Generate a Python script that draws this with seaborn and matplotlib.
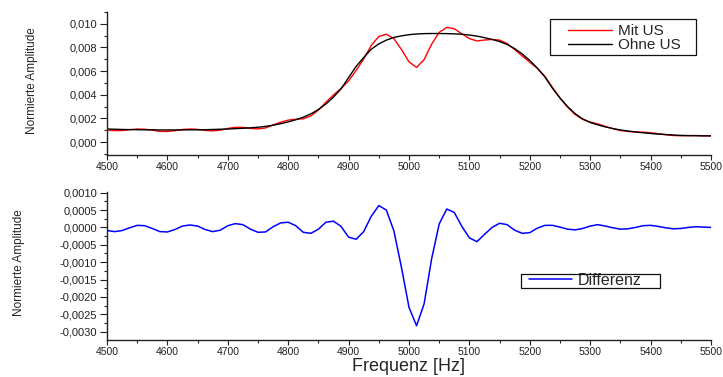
import numpy as np
import pandas as pd
import matplotlib
matplotlib.use("Agg")
import matplotlib.pyplot as plt
from matplotlib.ticker import MultipleLocator, FuncFormatter
from matplotlib.patches import Rectangle
import seaborn as sns

# ---------------- data ----------------
freq = np.arange(4500, 5500.1, 12.5)  # sampling grid in Hz

ohne_us = [1.10, 1.08, 1.06, 1.05, 1.04, 1.03, 1.03, 1.02, 1.02, 1.02,
           1.02, 1.03, 1.03, 1.04, 1.06, 1.08, 1.10, 1.13, 1.16, 1.20,
           1.25, 1.32, 1.42, 1.55, 1.70, 1.88, 2.10, 2.38, 2.75, 3.22,
           3.80, 4.50, 5.45, 6.40, 7.15, 7.85, 8.30, 8.62, 8.85, 8.98,
           9.08, 9.14, 9.17, 9.18, 9.18, 9.17, 9.15, 9.12, 9.05, 8.96,
           8.83, 8.68, 8.50, 8.25, 7.90, 7.45, 6.90, 6.25, 5.50, 4.55,
           3.72, 3.00, 2.40, 1.95, 1.65, 1.45, 1.28, 1.14, 1.02, 0.93,
           0.85, 0.78, 0.72, 0.67, 0.63, 0.59, 0.56, 0.54, 0.53, 0.52,
           0.52]  # x 1e-3

mit_us = [1.01, 0.96, 0.97, 1.04, 1.10, 1.08, 1.00, 0.90, 0.89, 0.96,
          1.06, 1.10, 1.07, 0.98, 0.94, 1.00, 1.15, 1.24, 1.24, 1.15,
          1.11, 1.19, 1.44, 1.68, 1.85, 1.93, 1.96, 2.21, 2.70, 3.37,
          3.98, 4.53, 5.17, 6.06, 7.03, 8.17, 8.93, 9.12, 8.75, 7.83,
          6.78, 6.31, 6.97, 8.28, 9.28, 9.70, 9.58, 9.15, 8.75, 8.55,
          8.63, 8.68, 8.62, 8.33, 7.82, 7.28, 6.75, 6.23, 5.56, 4.61,
          3.73, 2.95, 2.33, 1.92, 1.69, 1.53, 1.32, 1.13, 0.97, 0.89,
          0.85, 0.83, 0.78, 0.70, 0.62, 0.55, 0.53, 0.54, 0.55, 0.53,
          0.52]  # x 1e-3

differenz = [-0.9, -1.2, -0.9, -0.1, 0.6, 0.5, -0.3, -1.2, -1.3, -0.6,
             0.4, 0.7, 0.4, -0.6, -1.2, -0.8, 0.5, 1.1, 0.8, -0.5,
             -1.4, -1.3, 0.2, 1.3, 1.5, 0.5, -1.4, -1.7, -0.5, 1.5,
             1.8, 0.3, -2.8, -3.4, -1.2, 3.2, 6.3, 5.0, -1.0, -11.5,
             -23.0, -28.3, -22.0, -9.0, 1.0, 5.3, 4.3, 0.3, -3.0, -4.1,
             -2.0, 0.0, 1.2, 0.8, -0.8, -1.7, -1.5, -0.2, 0.6, 0.6,
             0.1, -0.5, -0.7, -0.3, 0.4, 0.8, 0.4, -0.1, -0.5, -0.4,
             0.0, 0.5, 0.6, 0.3, -0.1, -0.4, -0.3, 0.0, 0.2, 0.1,
             0.0]  # x 1e-4

x_ticks = [4500, 4600, 4700, 4800, 4900, 5000, 5100, 5200, 5300, 5400, 5500]
labels_top = ["Mit US", "Ohne US"]
label_bottom = "Differenz"
xlabel = "Frequenz [Hz]"
ylabel = "Normierte Amplitude"

df_top = pd.DataFrame({
    "f": np.concatenate([freq, freq]),
    "a": np.concatenate([np.array(mit_us) * 1e-3, np.array(ohne_us) * 1e-3]),
    "s": [labels_top[0]] * len(freq) + [labels_top[1]] * len(freq),
})
df_bot = pd.DataFrame({"f": freq, "a": np.array(differenz) * 1e-4,
                       "s": [label_bottom] * len(freq)})

# ---------------- style ----------------
sns.set_style("ticks")
plt.rcParams["font.family"] = ["Liberation Sans", "DejaVu Sans"]
plt.rcParams["axes.linewidth"] = 1.0
plt.rcParams["xtick.direction"] = "out"
plt.rcParams["ytick.direction"] = "out"

W, H = 723, 377
fig = plt.figure(figsize=(W / 100, H / 100), dpi=100)
fig.patch.set_facecolor("white")

def px_axes(l, t, r, b):
    return fig.add_axes([l / W, 1 - b / H, (r - l) / W, (b - t) / H])

def px_rect(l, t, r, b):
    fig.patches.append(Rectangle((l / W, 1 - b / H), (r - l) / W, (b - t) / H,
                                 transform=fig.transFigure, fill=False,
                                 edgecolor="#111111", linewidth=0.9, zorder=5))

ax1 = px_axes(107, 12, 711, 155)
ax2 = px_axes(107, 192, 711, 340)

sns.lineplot(data=df_top, x="f", y="a", hue="s",
             palette={labels_top[0]: "#ff0000", labels_top[1]: "#000000"},
             linewidth=1.0, ax=ax1)
sns.lineplot(data=df_bot, x="f", y="a", hue="s",
             palette={label_bottom: "#0000ff"}, linewidth=1.1, ax=ax2)

def fmt(dec):
    def f(v, pos):
        if abs(v) < 1e-12:
            v = 0.0
        return f"{v:.{dec}f}".replace(".", ",")
    return FuncFormatter(f)

for ax in (ax1, ax2):
    ax.set_xlim(4500, 5500)
    ax.set_xticks(x_ticks)
    ax.xaxis.set_minor_locator(MultipleLocator(50))
    ax.spines["top"].set_visible(False)
    ax.spines["right"].set_visible(False)
    for s in ("left", "bottom"):
        ax.spines[s].set_color("#222222")
    ax.tick_params(axis="x", which="major", length=3.5, width=0.8, pad=1.5,
                   labelsize=7.5, colors="#222222")
    ax.tick_params(axis="x", which="minor", length=2, width=0.8)
    ax.tick_params(axis="y", which="major", length=5, width=0.8, pad=2,
                   labelsize=8, colors="#222222")
    ax.tick_params(axis="y", which="minor", length=2.5, width=0.8)
    ax.set_xlabel("")
    ax.set_ylabel(ylabel, fontsize=8.5)

ax1.set_ylim(-0.0011, 0.011)
ax1.set_yticks([0.000, 0.002, 0.004, 0.006, 0.008, 0.010])
ax1.yaxis.set_minor_locator(MultipleLocator(0.001))
ax1.yaxis.set_major_formatter(fmt(3))
ax1.yaxis.set_label_coords(-0.114, 0.52)

ax2.set_ylim(-0.00324, 0.00102)
ax2.set_yticks(np.arange(-0.0030, 0.00101, 0.0005))
ax2.yaxis.set_minor_locator(MultipleLocator(0.00025))
ax2.yaxis.set_major_formatter(fmt(4))
ax2.yaxis.set_label_coords(-0.135, 0.52)
ax2.set_xlabel(xlabel, fontsize=13, labelpad=1)

# legends: frameless legend content + rectangle frame
leg1 = ax1.legend(loc="upper left", bbox_to_anchor=(568 / W, 1 - 24 / H),
                  bbox_transform=fig.transFigure, fontsize=11,
                  frameon=False, handlelength=2.85, handletextpad=0.4,
                  labelspacing=0.0, borderpad=0, borderaxespad=0)
px_rect(550, 19, 696, 55)

leg2 = ax2.legend(loc="upper left", bbox_to_anchor=(529 / W, 1 - 273 / H),
                  bbox_transform=fig.transFigure, fontsize=11.5,
                  frameon=False, handlelength=2.7, handletextpad=0.35,
                  borderpad=0, borderaxespad=0)
px_rect(521, 274, 660, 288)

fig.savefig("out.png", dpi=100, facecolor="white")
